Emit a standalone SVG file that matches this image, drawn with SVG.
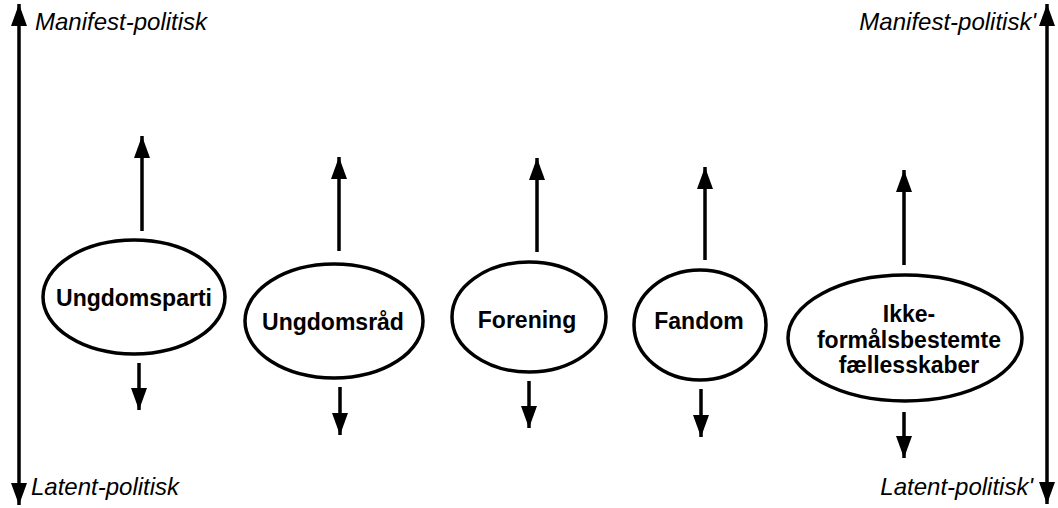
<svg xmlns="http://www.w3.org/2000/svg" width="1058" height="508" viewBox="0 0 1058 508">
<style>
.node ellipse{fill:#fff;stroke:#000;stroke-width:3.5}
.node text{font-family:"Liberation Sans",Arial,sans-serif;font-weight:bold;font-size:23px;text-anchor:middle;fill:#000}
.lbl{font-family:"Liberation Sans",Arial,sans-serif;font-style:italic;font-size:24px;fill:#000}
.conn line{stroke:#000;stroke-width:3.5}
</style>
<defs>
<marker id="ah" markerUnits="userSpaceOnUse" markerWidth="16" markerHeight="24" viewBox="0 0 16 24" refX="22" refY="8" orient="auto" overflow="visible">
<polygon points="0,0 22,8 0,16" fill="#000"/>
</marker>
</defs>
<rect width="1058" height="508" fill="#fff"/>
<g id="connectors" class="conn">
<line x1="19" y1="250" x2="19" y2="4" marker-end="url(#ah)"/>
<line x1="19" y1="250" x2="19" y2="505" marker-end="url(#ah)"/>
<line x1="1047" y1="250" x2="1047" y2="4" marker-end="url(#ah)"/>
<line x1="1047" y1="250" x2="1047" y2="504" marker-end="url(#ah)"/>
<line x1="142" y1="231" x2="142" y2="136" marker-end="url(#ah)"/>
<line x1="139" y1="363" x2="139" y2="410" marker-end="url(#ah)"/>
<line x1="339" y1="251" x2="339" y2="157" marker-end="url(#ah)"/>
<line x1="340" y1="387" x2="340" y2="435" marker-end="url(#ah)"/>
<line x1="537" y1="252" x2="537" y2="158" marker-end="url(#ah)"/>
<line x1="529" y1="381" x2="529" y2="428" marker-end="url(#ah)"/>
<line x1="705" y1="260" x2="705" y2="167" marker-end="url(#ah)"/>
<line x1="701" y1="389" x2="701" y2="437" marker-end="url(#ah)"/>
<line x1="904" y1="265" x2="904" y2="170" marker-end="url(#ah)"/>
<line x1="904" y1="412" x2="904" y2="458" marker-end="url(#ah)"/>
</g>
<g id="labels">
<text class="lbl" x="35" y="30">Manifest-politisk</text>
<text class="lbl" x="31" y="495">Latent-politisk</text>
<text class="lbl" x="1036" y="30" text-anchor="end">Manifest-politisk'</text>
<text class="lbl" x="1033" y="495" text-anchor="end">Latent-politisk'</text>
</g>
<g id="ungdomsparti" class="node">
<ellipse cx="134" cy="297" rx="91" ry="57"/>
<text x="134" y="306">Ungdomsparti</text>
</g>
<g id="ungdomsraad" class="node">
<ellipse cx="334" cy="321" rx="89" ry="57"/>
<text x="333" y="330">Ungdomsråd</text>
</g>
<g id="forening" class="node">
<ellipse cx="529" cy="317" rx="77" ry="55"/>
<text x="527" y="328">Forening</text>
</g>
<g id="fandom" class="node">
<ellipse cx="700" cy="325" rx="66" ry="55"/>
<text x="699" y="329">Fandom</text>
</g>
<g id="ikke" class="node">
<ellipse cx="905" cy="338" rx="117" ry="63"/>
<text x="909" y="322">Ikke-</text>
<text x="909" y="348">formålsbestemte</text>
<text x="909" y="373">fællesskaber</text>
</g>
</svg>
